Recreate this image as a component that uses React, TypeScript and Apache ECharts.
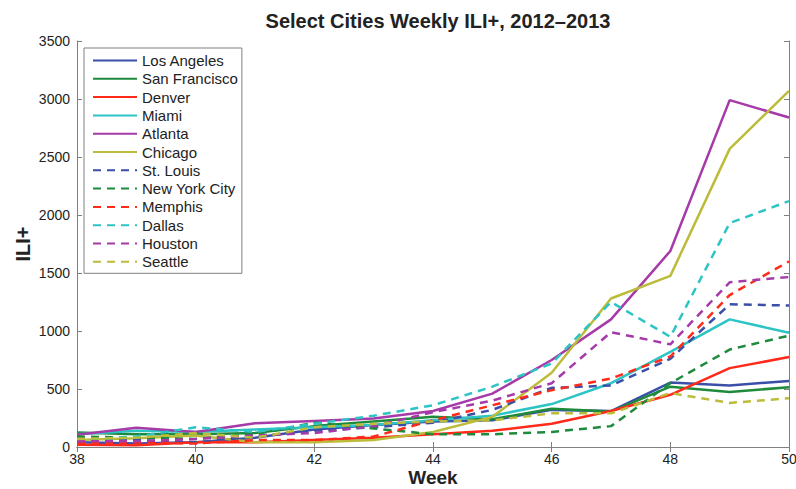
import React, { useEffect, useRef } from "react";
import * as echarts from "echarts";

const weeks = [38, 39, 40, 41, 42, 43, 44, 45, 46, 47, 48, 49, 50];
const cities = ["Los Angeles", "San Francisco", "Denver", "Miami", "Atlanta", "Chicago", "St. Louis", "New York City", "Memphis", "Dallas", "Houston", "Seattle"];
const losAngeles = [40, 30, 40, 80, 150, 190, 220, 230, 320, 310, 555, 530, 570];
const sanFrancisco = [125, 110, 110, 120, 180, 220, 260, 240, 330, 305, 520, 475, 515];
const denver = [20, 15, 40, 40, 60, 80, 110, 140, 200, 310, 450, 680, 775];
const miami = [110, 140, 130, 150, 170, 190, 230, 270, 370, 550, 820, 1100, 985];
const atlanta = [105, 165, 130, 205, 225, 245, 310, 460, 750, 1100, 1690, 2990, 2840];
const chicago = [60, 75, 100, 40, 40, 60, 130, 260, 640, 1280, 1475, 2570, 3070];
const stLouis = [50, 60, 40, 90, 140, 170, 210, 320, 510, 530, 760, 1230, 1220];
const newYorkCity = [90, 80, 70, 110, 210, 160, 110, 110, 130, 180, 550, 840, 960];
const memphis = [30, 40, 30, 60, 60, 90, 230, 360, 490, 590, 780, 1310, 1600];
const dallas = [60, 90, 170, 130, 200, 270, 360, 520, 720, 1250, 950, 1930, 2120];
const houston = [50, 50, 70, 100, 120, 180, 300, 400, 550, 990, 885, 1420, 1465];
const seattle = [70, 80, 120, 80, 170, 200, 220, 230, 290, 290, 465, 380, 420];
const yTicks = [0, 500, 1000, 1500, 2000, 2500, 3000, 3500];

const values = [losAngeles, sanFrancisco, denver, miami, atlanta, chicago, stLouis, newYorkCity, memphis, dallas, houston, seattle];
const colors = ["#3a4fa8", "#1e8a3c", "#ff2a1a", "#2cc4c4", "#a53aa8", "#bcbc3a"];

export default function App() {
  const ref = useRef<HTMLDivElement>(null);
  useEffect(() => {
    const chart = echarts.init(ref.current!, undefined, { renderer: "svg" });
    const font = "'Liberation Sans', Arial, sans-serif";
    const axisLine = { show: true, lineStyle: { color: "#808080", width: 1 } };
    const tick = { show: true, inside: true, length: 5, lineStyle: { color: "#808080" } };
    const series = cities.map((name, i) => ({
      name,
      type: "line",
      data: weeks.map((w, j) => [w, values[i][j]]),
      symbol: "none",
      lineStyle: { color: colors[i % 6], width: 2.5, type: i >= 6 ? [8, 6] : "solid" },
      itemStyle: { color: colors[i % 6] },
      xAxisIndex: 0,
      yAxisIndex: 0,
    }));
    chart.setOption({
      animation: false,
      backgroundColor: "#ffffff",
      title: {
        text: "Select Cities Weekly ILI+, 2012\u20132013",
        left: 433,
        textAlign: "center",
        top: 6,
        textStyle: { fontFamily: font, fontSize: 20, fontWeight: "bold", color: "#222" },
      },
      legend: {
        orient: "vertical",
        left: 84,
        top: 48,
        padding: [5, 4, 4, 8],
        itemWidth: 44,
        itemHeight: 14,
        itemGap: 3.3,
        backgroundColor: "#ffffff",
        borderColor: "#808080",
        borderWidth: 1,
        itemStyle: { opacity: 0, borderWidth: 0 },
        textStyle: { fontFamily: font, fontSize: 15, color: "#222", padding: [0, 0, 0, 0] },
        data: cities,
      },
      grid: { left: 77, right: 7, top: 41, bottom: 42, containLabel: false, outerBoundsMode: "none" },
      xAxis: [
        {
          type: "value",
          min: 38,
          max: 50,
          interval: 2,
          name: "Week",
          nameLocation: "middle",
          nameGap: 21,
          nameMoveOverlap: false,
          nameTextStyle: { fontFamily: font, fontSize: 19, lineHeight: 19, fontWeight: "bold", color: "#222" },
          axisLine,
          axisTick: tick,
          splitLine: { show: false },
          axisLabel: { fontFamily: font, fontSize: 14, lineHeight: 14, color: "#222", margin: 5 },
        },
        {
          type: "value",
          position: "top",
          min: 38,
          max: 50,
          interval: 2,
          axisLine,
          axisTick: tick,
          splitLine: { show: false },
          axisLabel: { show: false },
        },
      ],
      yAxis: [
        {
          type: "value",
          min: yTicks[0],
          max: yTicks[yTicks.length - 1],
          interval: 500,
          name: "ILI+",
          nameLocation: "middle",
          nameGap: 44,
          nameMoveOverlap: false,
          nameTextStyle: { fontFamily: font, fontSize: 20, fontWeight: "bold", color: "#222" },
          axisLine,
          axisTick: tick,
          splitLine: { show: false },
          axisLabel: { fontFamily: font, fontSize: 14, color: "#222", margin: 7, formatter: (v: number) => String(v) },
        },
        {
          type: "value",
          position: "right",
          min: yTicks[0],
          max: yTicks[yTicks.length - 1],
          interval: 500,
          axisLine,
          axisTick: tick,
          splitLine: { show: false },
          axisLabel: { show: false },
        },
      ],
      series,
    });
    return () => chart.dispose();
  }, []);
  return <div ref={ref} style={{ position: "fixed", left: 0, top: 0, width: 796, height: 489 }} />;
}
